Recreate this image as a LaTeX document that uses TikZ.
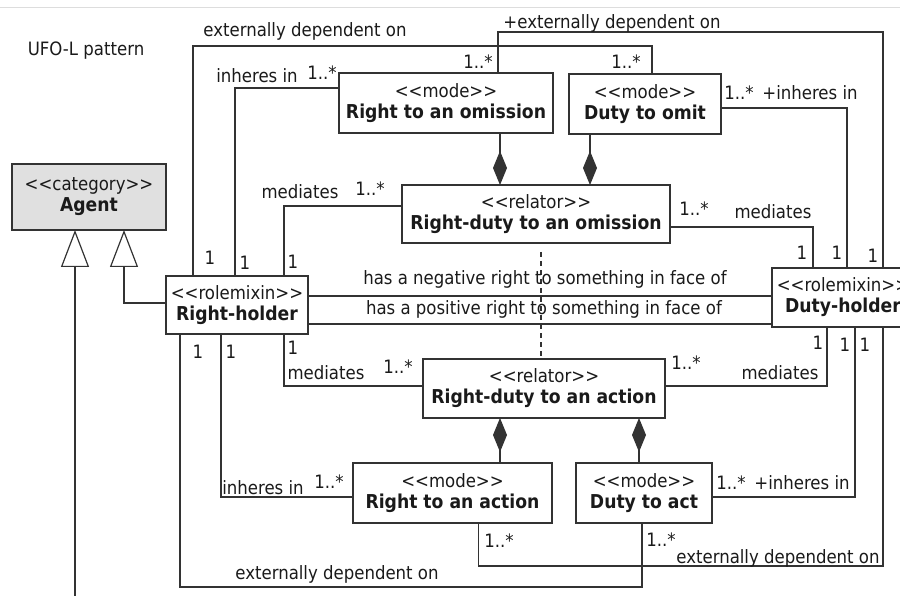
\documentclass[tikz,border=0pt]{standalone}
\usepackage{fontspec}
\setmainfont{DejaVu Sans Condensed}[BoldFont={DejaVu Sans Condensed Bold},BoldFeatures={Scale=1.04}]
\usetikzlibrary{arrows.meta}
\definecolor{edge}{HTML}{333333}
\definecolor{txt}{HTML}{1A1A1A}
\definecolor{agentfill}{HTML}{E0E0E0}
\definecolor{rule}{HTML}{DDDDDD}
% stereotype guillemets written as doubled angle brackets
\newcommand\stereo[1]{<\kern0pt<#1>\kern0pt>}

\begin{document}
\begin{tikzpicture}[x=1pt,y=-1pt,
  every node/.style={font=\fontsize{18.4}{21}\selectfont, text=txt},
  cls/.style={draw=edge, line width=1.3pt, fill=white, align=center, inner sep=0pt, outer sep=0pt},
  wire/.style={draw=edge, line width=1.2pt},
  comp/.style={wire, -{Diamond[length=34pt,width=14pt]}},
  gen/.style={wire, -{Triangle[open,length=37pt,width=28pt]}},
  lbl/.style={inner sep=0pt},
]
\useasboundingbox (0,0) rectangle (900,596);
\draw[rule, line width=1pt] (0,8) -- (900,8);

\node[lbl] (title) at (86,51) {UFO-L pattern};

% classes
\node[cls, fill=agentfill, minimum width=154pt, minimum height=66pt] (agent) at (89,197) {\stereo{category}\\\textbf{Agent}};
\node[cls, minimum width=142pt, minimum height=58pt] (rh) at (237,305) {\stereo{rolemixin}\\\textbf{Right-holder}};
\node[cls, minimum width=142pt, minimum height=59pt] (dh) at (843,297.5) {\stereo{rolemixin}\\\textbf{Duty-holder}};
\node[cls, minimum width=214pt, minimum height=60pt] (rom) at (446,103) {\stereo{mode}\\\textbf{Right to an omission}};
\node[cls, minimum width=152pt, minimum height=60pt] (dto) at (645,104) {\stereo{mode}\\\textbf{Duty to omit}};
\node[cls, minimum width=268pt, minimum height=58pt] (rdo) at (536,214) {\stereo{relator}\\\textbf{Right-duty to an omission}};
\node[cls, minimum width=242pt, minimum height=59pt] (rda) at (544,388.5) {\stereo{relator}\\\textbf{Right-duty to an action}};
\node[cls, minimum width=199pt, minimum height=60pt] (ra) at (452.5,493) {\stereo{mode}\\\textbf{Right to an action}};
\node[cls, minimum width=136pt, minimum height=60pt] (dta) at (644,493) {\stereo{mode}\\\textbf{Duty to act}};

% generalizations to Agent
\coordinate (genfoot) at (75,600);
\draw[gen] (genfoot) -- ([xshift=-14pt]agent.south);
\draw[gen] ([yshift=2pt]rh.west) -| ([xshift=35pt]agent.south);

% links leaving the top of Right-holder
\draw[wire] ([xshift=27pt]rh.north west) -- ++(0,-230) -| ([xshift=83pt]dto.north west);
\draw[wire] ([xshift=69pt]rh.north west) |- ([yshift=15pt]rom.west);
\draw[wire] ([xshift=118pt]rh.north west) |- ([yshift=8pt]rdo.west);

% links reaching the top of Duty-holder
\draw[wire] ([yshift=-13pt]rdo.east) -| ([xshift=41pt]dh.north west);
\draw[wire] ([yshift=-4pt]dto.east) -| ([xshift=75pt]dh.north west);
\draw[wire] ([xshift=52pt]rom.north) -- ++(0,-41) -| ([xshift=111pt]dh.north west);

% compositions
\draw[comp] ([xshift=54pt]rom.south) -- ([xshift=-36pt]rdo.north);
\draw[comp] ([xshift=-55pt]dto.south) -- ([xshift=54pt]rdo.north);
\draw[comp] ([xshift=47.5pt]ra.north) -- ([xshift=-44pt]rda.south);
\draw[comp] ([xshift=-5pt]dta.north) -- ([xshift=95pt]rda.south);

% derivation between the relators
\draw[wire, dash pattern=on 5pt off 4pt] ([xshift=5pt,yshift=-9pt]rdo.south) -- ([xshift=-3pt]rda.north);

% associations between holders
\draw[wire] ([yshift=9pt]rh.east) coordinate (na) -- (na -| dh.west);
\draw[wire] ([yshift=-19pt]rh.east) coordinate (pa) -- (pa -| dh.west);

% links below the holders
\draw[wire] ([xshift=118pt]rh.south west) |- ([yshift=2.5pt]rda.west);
\draw[wire] ([yshift=2.5pt]rda.east) -| ([xshift=55pt]dh.south west);
\draw[wire] ([xshift=55pt]rh.south west) |- ([yshift=-4pt]ra.west);
\draw[wire] ([yshift=-4pt]dta.east) -| ([xshift=83pt]dh.south west);
\draw[wire] ([xshift=26pt]ra.south) -- ++(0,43) -| ([xshift=111pt]dh.south west);
\draw[wire] ([xshift=-2pt]dta.south) -- ++(0,64) -| ([xshift=14pt]rh.south west);

% role names and multiplicities, upper half
\node[lbl] (t1) at (305,31) {externally dependent on};
\node[lbl] (t2) at (257,76) {inheres in};
\node[lbl] (t3) at (322,73) {1..*};
\node[lbl] (t4) at (210,258) {1};
\node[lbl] (t5) at (245,263) {1};
\node[lbl] (t6) at (293,262) {1};
\node[lbl] (t7) at (300,192) {mediates};
\node[lbl] (t8) at (370,189) {1..*};
\node[lbl] (t9) at (478,62) {1..*};
\node[lbl] (t10) at (626,62) {1..*};
\node[lbl] (t11) at (612,23) {+externally dependent on};
\node[lbl] (t12) at (739,93) {1..*};
\node[lbl] (t13) at (810,93) {+inheres in};
\node[lbl] (t14) at (694,209) {1..*};
\node[lbl] (t15) at (773,212) {mediates};
\node[lbl] (t16) at (802,253) {1};
\node[lbl] (t17) at (837,253) {1};
\node[lbl] (t18) at (873,256) {1};
\node[lbl] (t19) at (545,279) {has a negative right to something in face of};
\node[lbl] (t20) at (544,309) {has a positive right to something in face of};

% role names and multiplicities, lower half
\node[lbl] (b1) at (198,352) {1};
\node[lbl] (b2) at (231,352) {1};
\node[lbl] (b3) at (293,348) {1};
\node[lbl] (b4) at (326,373) {mediates};
\node[lbl] (b5) at (398,367) {1..*};
\node[lbl] (b6) at (686,363) {1..*};
\node[lbl] (b7) at (780,373) {mediates};
\node[lbl] (b8) at (818,343) {1};
\node[lbl] (b9) at (845,345) {1};
\node[lbl] (b10) at (865,345) {1};
\node[lbl] (b11) at (263,488) {inheres in};
\node[lbl] (b12) at (329,482) {1..*};
\node[lbl] (b13) at (731,483) {1..*};
\node[lbl] (b14) at (802,483) {+inheres in};
\node[lbl] (b15) at (499,541) {1..*};
\node[lbl] (b16) at (661,540) {1..*};
\node[lbl] (b17) at (778,558) {externally dependent on};
\node[lbl] (b18) at (337,574) {externally dependent on};
\end{tikzpicture}
\end{document}
